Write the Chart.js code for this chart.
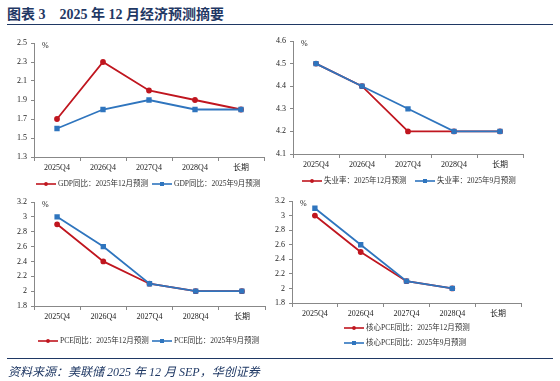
<!DOCTYPE html>
<html>
<head>
<meta charset="utf-8">
<script src="https://cdn.jsdelivr.net/npm/chart.js@4/dist/chart.umd.min.js"></script>
<style>
  html, body { margin: 0; padding: 0; background: #fff; }
  body { width: 560px; height: 381px; position: relative; overflow: hidden; }
  canvas { position: absolute; }
  .title { position: absolute; left: 7px; top: 3px; font: bold 14px 'Liberation Serif', 'Noto Sans CJK SC', serif; color: #1F3864; white-space: pre; }
  .title .gap { display: inline-block; width: 14px; }
  .rule { position: absolute; left: 7px; width: 546px; height: 1px; background: #1F3864; }
  .source { position: absolute; left: 8px; top: 362px; font: italic 12px 'Liberation Serif', 'Noto Sans CJK SC', serif; color: #1F3864; white-space: pre; }
</style>
</head>
<body>
<div class="title">图表 3<span class="gap"></span>2025 年 12 月经济预测摘要</div>
<div class="rule" style="top:24px"></div>
<canvas id="c1" width="280" height="165" style="left:0;top:30px"></canvas>
<canvas id="c2" width="290" height="165" style="left:270px;top:30px"></canvas>
<canvas id="c3" width="280" height="165" style="left:0;top:190px"></canvas>
<canvas id="c4" width="290" height="165" style="left:270px;top:190px"></canvas>
<div class="rule" style="top:358px"></div>
<div class="source">资料来源：美联储 2025 年 12 月 SEP，华创证券</div>
<script>
const categories = ['2025Q4', '2026Q4', '2027Q4', '2028Q4', '长期'];

const gdpDec = [1.7, 2.3, 2.0, 1.9, 1.8];
const gdpSep = [1.6, 1.8, 1.9, 1.8, 1.8];
const gdpNames = ['GDP同比：2025年12月预测', 'GDP同比：2025年9月预测'];
const gdpTicks = [1.3, 2.5, 0.2];

const unempDec = [4.5, 4.4, 4.2, 4.2, 4.2];
const unempSep = [4.5, 4.4, 4.3, 4.2, 4.2];
const unempNames = ['失业率：2025年12月预测', '失业率：2025年9月预测'];
const unempTicks = [4.1, 4.6, 0.1];

const pceDec = [2.9, 2.4, 2.1, 2.0, 2.0];
const pceSep = [3.0, 2.6, 2.1, 2.0, 2.0];
const pceNames = ['PCE同比：2025年12月预测', 'PCE同比：2025年9月预测'];
const pceTicks = [1.8, 3.2, 0.2];

const corePceDec = [3.0, 2.5, 2.1, 2.0, null];
const corePceSep = [3.1, 2.6, 2.1, 2.0, null];
const corePceNames = ['核心PCE同比：2025年12月预测', '核心PCE同比：2025年9月预测'];
const corePceTicks = [1.8, 3.2, 0.2];

const RED = '#C0161F';
const BLUE = '#2F75BE';
const FONT = "'Liberation Serif', 'Noto Sans CJK SC', serif";

const legendPlugin = {
  id: 'customLegend',
  afterDraw(chart, args, opts) {
    const ctx = chart.ctx;
    ctx.save();
    ctx.fillStyle = '#222';
    ctx.font = '8px ' + FONT;
    ctx.textBaseline = 'middle';
    ctx.textAlign = 'left';
    ctx.fillText('%', chart.chartArea.left + 8, chart.chartArea.top + 3);
    opts.items.forEach((it, i) => {
      const ds = chart.data.datasets[i];
      const x = it[0], y = it[1];
      ctx.strokeStyle = ds.borderColor;
      ctx.lineWidth = 1.6;
      ctx.beginPath();
      ctx.moveTo(x, y);
      ctx.lineTo(x + 20, y);
      ctx.stroke();
      ctx.fillStyle = ds.borderColor;
      if (ds.pointStyle === 'rect') {
        ctx.fillRect(x + 10 - 2, y - 2, 4, 4);
      } else {
        ctx.beginPath();
        ctx.arc(x + 10, y, 1.9, 0, Math.PI * 2);
        ctx.fill();
      }
      ctx.fillStyle = '#333';
      ctx.font = '7.5px ' + FONT;
      ctx.textBaseline = 'middle';
      ctx.fillText(ds.label, x + 22, y + 0.5);
    });
    ctx.restore();
  }
};

function makeChart(id, W, H, area, dec, sep, names, ticks, legendItems) {
  const [L, R, T, B] = area;
  new Chart(document.getElementById(id), {
    type: 'line',
    data: {
      labels: categories,
      datasets: [
        { label: names[0], data: dec, borderColor: RED, backgroundColor: RED, borderWidth: 1.8,
          pointStyle: 'circle', pointRadius: 2, pointHoverRadius: 2, order: 2 },
        { label: names[1], data: sep, borderColor: BLUE, backgroundColor: BLUE, borderWidth: 1.8,
          pointStyle: 'rect', pointRadius: 2.5, pointHoverRadius: 2.5, order: 1 }
      ]
    },
    options: {
      responsive: false,
      animation: false,
      events: [],
      layout: { padding: { left: 0, right: W - R, top: T, bottom: 0 } },
      plugins: {
        legend: { display: false },
        tooltip: { enabled: false },
        customLegend: { items: legendItems }
      },
      scales: {
        x: {
          offset: true,
          grid: { offset: true, drawOnChartArea: false, drawTicks: true, tickLength: 4, color: '#888' },
          border: { color: '#888', width: 1 },
          ticks: { color: '#222', font: { family: FONT, size: 8 }, padding: 2, maxRotation: 0, autoSkip: false },
          afterFit(s) { s.height = H - B; }
        },
        y: {
          min: ticks[0], max: ticks[1],
          grid: { drawOnChartArea: false, drawTicks: true, tickLength: 3, color: '#888' },
          border: { color: '#888', width: 1 },
          ticks: { stepSize: ticks[2], color: '#222', font: { family: FONT, size: 8 }, padding: 4,
            callback: v => String(+v.toFixed(2)) },
          afterFit(s) { s.width = L; }
        }
      }
    },
    plugins: [legendPlugin]
  });
}

makeChart('c1', 280, 165, [34, 264, 13, 127], gdpDec, gdpSep, gdpNames, gdpTicks, [[36, 154], [152, 154]]);
makeChart('c2', 290, 165, [23, 253, 11, 124], unempDec, unempSep, unempNames, unempTicks, [[32, 151], [145, 151]]);
makeChart('c3', 280, 165, [34, 265, 12, 116], pceDec, pceSep, pceNames, pceTicks, [[38, 151], [152, 151]]);
makeChart('c4', 290, 165, [22, 251, 11, 113], corePceDec, corePceSep, corePceNames, corePceTicks, [[74, 138], [74, 153]]);
</script>
</body>
</html>
